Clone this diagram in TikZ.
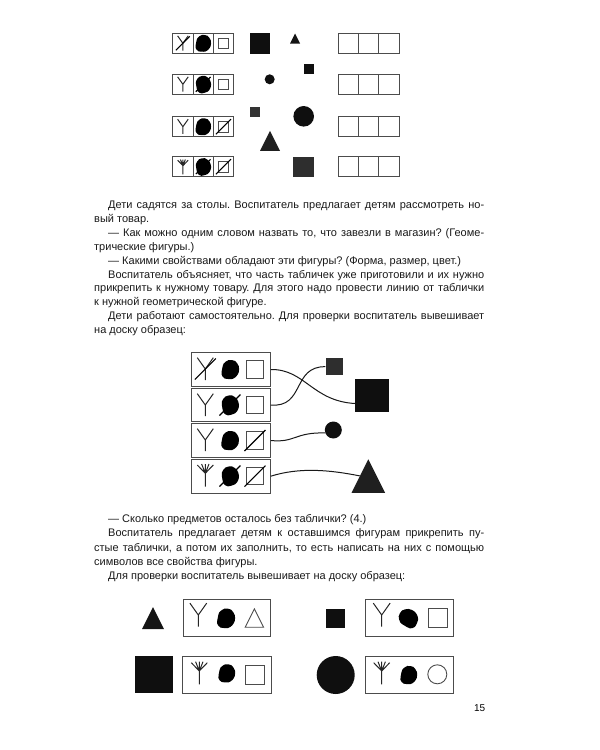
\documentclass[tikz,border=0pt]{standalone}
\usepackage{fontspec}
\setmainfont{Liberation Sans}
\frenchspacing
\usetikzlibrary{shapes.geometric, positioning}

\tikzset{
    cell/.style={draw=black!70, line width=0.9pt, inner sep=0pt, minimum width=#1, minimum height=20pt},
    label box/.style={draw=black!70, line width=0.9pt, inner sep=0pt},
    solid fig/.style={fill=black!94, inner sep=0pt},
    tri fig/.style={isosceles triangle, isosceles triangle stretches, shape border rotate=90, anchor=lower side, inner sep=0pt, minimum width=#1, minimum height=#1},
    open fig/.style={draw=black!70, line width=0.9pt, inner sep=0pt},
    wire/.style={line width=1pt, black!90},
    page text/.style={anchor=north west, inner sep=0pt, text width=390pt, align=justify, text=black!90, font=\fontsize{11}{#1}\selectfont},
    pics/forktwo/.style={code={
        \draw[line width=1pt, black!85] (-8,-11.3) -- (0,0) -- (8,-11.3) (0,0) -- (0,11);
    }},
    pics/forkfive/.style={code={
        \draw[line width=1pt, black!85] (-8,-8.3) -- (0,0) -- (8,-8.3) (-3.7,-9.3) -- (0,0) -- (3.7,-9.3) (0,-9.3) -- (0,13.3);
    }},
    pics/blob/.style={code={
        \fill[black] plot[smooth cycle, tension=.45] coordinates {(-6.5,-6) (-1.5,-9.5) (5,-8.5) (8.7,-3) (8.5,3) (6,7) (2,9.5) (-5.5,9) (-8.7,5) (-8,-1)};
    }},
    pics/slash/.style={code={
        \draw[line width=1.1pt, black] (-10.5,10.5) -- (10.5,-10.5);
    }},
}

\begin{document}
\begin{tikzpicture}[x=1pt, y=-1pt]
    \useasboundingbox (0,0) rectangle (600,750);

    % Shop labels
    \node[cell=20.3pt] (la1) at (182.9,43.3) {};
    \node[cell=20.3pt] (lb1) at (203.2,43.3) {};
    \node[cell=20.3pt] (lc1) at (223.5,43.3) {};
    \node[cell=20.3pt] (la2) at (182.9,84.3) {};
    \node[cell=20.3pt] (lb2) at (203.2,84.3) {};
    \node[cell=20.3pt] (lc2) at (223.5,84.3) {};
    \node[cell=20.3pt] (la3) at (182.9,126.7) {};
    \node[cell=20.3pt] (lb3) at (203.2,126.7) {};
    \node[cell=20.3pt] (lc3) at (223.5,126.7) {};
    \node[cell=20.3pt] (la4) at (182.9,166.7) {};
    \node[cell=20.3pt] (lb4) at (203.2,166.7) {};
    \node[cell=20.3pt] (lc4) at (223.5,166.7) {};

    \pic[scale=.66] at (la1) {forktwo};
    \pic[scale=.66] at (la1) {slash};
    \pic[scale=.66] at (la2) {forktwo};
    \pic[scale=.66] at (la3) {forktwo};
    \pic[scale=.66] at ([yshift=1pt]la4) {forkfive};
    \pic[scale=.88] at (lb1) {blob};
    \pic[scale=.88, rotate=20] at (lb2) {blob};
    \pic[scale=.7] at (lb2) {slash};
    \pic[scale=.88] at (lb3) {blob};
    \pic[scale=.88, rotate=20] at (lb4) {blob};
    \pic[scale=.7] at (lb4) {slash};
    \node[open fig, minimum size=10.5pt] (sa1) at (lc1) {};
    \node[open fig, minimum size=10.5pt] (sa2) at (lc2) {};
    \node[open fig, minimum size=10.5pt] (sa3) at (lc3) {};
    \node[open fig, minimum size=10.5pt] (sa4) at (lc4) {};
    \pic[scale=.72] at (lc3) {slash};
    \pic[scale=.72] at (lc4) {slash};

    % Goods
    \node[rectangle, solid fig, minimum size=20.5pt] (g1) at (260,43.3) {};
    \node[tri fig=10pt, fill=black!92] (g2) at (295,43.7) {};
    \node[rectangle, solid fig, minimum size=10pt] (g3) at (308.7,69.3) {};
    \node[circle, solid fig, minimum size=10pt] (g4) at (269.7,79.3) {};
    \node[rectangle, solid fig, fill=black!80, minimum size=10.5pt] (g5) at (255,111.8) {};
    \node[circle, solid fig, minimum size=20.6pt] (g6) at (303.7,116.3) {};
    \node[tri fig=20pt, fill=black!88] (g7) at (270,151) {};
    \node[rectangle, solid fig, fill=black!82, minimum size=20.4pt] (g8) at (303.5,166.7) {};

    % Empty labels
    \node[cell=20.3pt] (ea1) at (348.2,43.3) {};
    \node[cell=20.3pt] (eb1) at (368.5,43.3) {};
    \node[cell=20.3pt] (ec1) at (388.8,43.3) {};
    \node[cell=20.3pt] (ea2) at (348.2,84.3) {};
    \node[cell=20.3pt] (eb2) at (368.5,84.3) {};
    \node[cell=20.3pt] (ec2) at (388.8,84.3) {};
    \node[cell=20.3pt] (ea3) at (348.2,126.7) {};
    \node[cell=20.3pt] (eb3) at (368.5,126.7) {};
    \node[cell=20.3pt] (ec3) at (388.8,126.7) {};
    \node[cell=20.3pt] (ea4) at (348.2,166.7) {};
    \node[cell=20.3pt] (eb4) at (368.5,166.7) {};
    \node[cell=20.3pt] (ec4) at (388.8,166.7) {};

    % First text
    \node[page text=13.9] (txta) at (94,200.8) {%
        \hspace*{14pt}Дети садятся за столы. Воспитатель предлагает детям рассмотреть но-\linebreak
        вый товар.\par
        \hspace*{14pt}— Как можно одним словом назвать то, что завезли в магазин? (Геоме-\linebreak
        трические фигуры.)\par
        \hspace*{14pt}— Какими свойствами обладают эти фигуры? (Форма, размер, цвет.)\par
        \hspace*{14pt}Воспитатель объясняет, что часть табличек уже приготовили и их нужно\linebreak
        прикрепить к нужному товару. Для этого надо провести линию от таблички\linebreak
        к нужной геометрической фигуре.\par
        \hspace*{14pt}Дети работают самостоятельно. Для проверки воспитатель вывешивает\linebreak
        на доску образец:};

    % Sample with lines
    \node[label box, minimum width=78.6pt, minimum height=33.6pt] (box1) at (231,369.5) {};
    \node[label box, minimum width=78.6pt, minimum height=33.4pt] (box2) at (231,405) {};
    \node[label box, minimum width=78.6pt, minimum height=33.6pt] (box3) at (231,440.5) {};
    \node[label box, minimum width=78.6pt, minimum height=33.7pt] (box4) at (231,476.2) {};
    \pic at (205.3,369) {forktwo};
    \pic at (205.3,369) {slash};
    \pic at (205.3,405) {forktwo};
    \pic at (205.3,440) {forktwo};
    \pic at (205.3,473.3) {forkfive};
    \pic at (230.2,369.5) {blob};
    \pic[rotate=20] at (230,405) {blob};
    \pic at (230,405) {slash};
    \pic at (230,440.5) {blob};
    \pic[rotate=20] at (230,476) {blob};
    \pic at (230,476) {slash};
    \node[open fig, minimum size=17.3pt] (sb1) at (255,369.5) {};
    \node[open fig, minimum size=17.3pt] (sb2) at (255,405) {};
    \node[open fig, minimum size=17.3pt] (sb3) at (255,440.5) {};
    \node[open fig, minimum size=17.3pt] (sb4) at (255,476.2) {};
    \pic at (255,440.5) {slash};
    \pic at (255,476.2) {slash};

    \node[rectangle, solid fig, fill=black!82, minimum size=17.3pt] (small) at (334.3,366.7) {};
    \node[rectangle, solid fig, minimum width=34pt, minimum height=33.6pt] (big) at (372.3,395.5) {};
    \node[circle, solid fig, minimum size=17pt] (ball) at (333.3,430) {};
    \node[tri fig=33.5pt, fill=black!88] (cone) at (368.3,493) {};

    \draw[wire] (box1.east) .. controls (305,369) and (312,401) .. (big.205);
    \draw[wire] (box2.east) .. controls (305,408) and (292,366) .. (small.west);
    \draw[wire] (box3.east) .. controls (295,443) and (295,432) .. (ball.200);
    \draw[wire] (box4.east) .. controls (300,467) and (330,470) .. (cone.left side);

    % Second text
    \node[page text=14.4] (txtb) at (94,514) {%
        \hspace*{14pt}— Сколько предметов осталось без таблички? (4.)\par
        \hspace*{14pt}Воспитатель предлагает детям к оставшимся фигурам прикрепить пу-\linebreak
        стые таблички, а потом их заполнить, то есть написать на них с помощью\linebreak
        символов все свойства фигуры.\par
        \hspace*{14pt}Для проверки воспитатель вывешивает на доску образец:};

    % Filled labels
    \node[tri fig=22pt, fill=black!92] (fa) at (153,629.3) {};
    \node[label box, minimum width=87.3pt, minimum height=37pt] (boxa) at (226.7,617.8) {};
    \pic[scale=1.05] at (198.3,615) {forktwo};
    \pic[scale=1.02] at (226,618.3) {blob};
    \node[tri fig=18.4pt, open fig, fill=white] (oa) at (254.4,627.7) {};

    \node[rectangle, solid fig, minimum size=19.2pt] (fb) at (335.3,618.2) {};
    \node[label box, minimum width=88.3pt, minimum height=37.4pt] (boxb) at (409.2,618) {};
    \pic[scale=1.05] at (381.7,615) {forktwo};
    \pic[scale=1.02, rotate=70] at (408.3,618.3) {blob};
    \node[open fig, minimum size=19pt] (ob) at (437.5,618.2) {};

    \node[rectangle, solid fig, minimum size=37.4pt] (fc) at (153.8,674.7) {};
    \node[label box, minimum width=88.3pt, minimum height=37.4pt] (boxc) at (226.8,674.7) {};
    \pic at (199.3,671) {forkfive};
    \pic[scale=.95] at (226.7,673.3) {blob};
    \node[open fig, minimum size=18.8pt] (oc) at (255.2,674.7) {};

    \node[circle, solid fig, minimum size=38pt] (fd) at (335.7,675) {};
    \node[label box, minimum width=88pt, minimum height=37.4pt] (boxd) at (409.3,674.7) {};
    \pic at (381.7,671) {forkfive};
    \pic[scale=.95] at (408.7,675) {blob};
    \node[circle, open fig, minimum size=19pt] (od) at (437.3,674.3) {};

    \node[anchor=base east, inner sep=0pt, font=\fontsize{10}{12}\selectfont] (pageno) at (485.5,711.5) {15};
\end{tikzpicture}
\end{document}
